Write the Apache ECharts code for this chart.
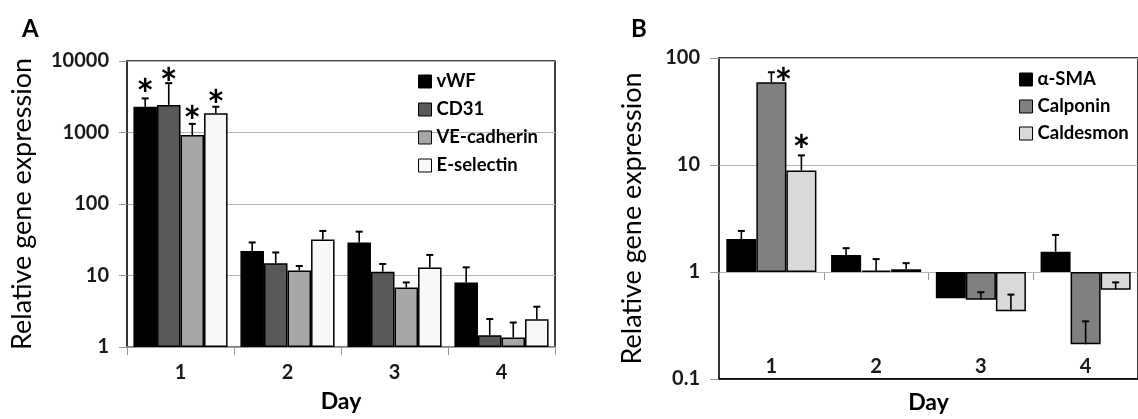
<!DOCTYPE html>
<html>
<head>
<meta charset="utf-8">
<script src="https://cdn.jsdelivr.net/npm/echarts@6/dist/echarts.min.js"></script>
<style>
  html,body{margin:0;padding:0;background:#fff;}
  #chart{width:1138px;height:419px;}
</style>
</head>
<body>
<div id="chart"></div>
<script>
// categories
var days = ['1', '2', '3', '4'];

// panel A - endothelial markers (mean, upper error)
var vwf = [2290, 22, 29, 8.0];
var vwfErr = [3000, 29, 41, 13];
var cd31 = [2430, 14.8, 11.3, 1.46];
var cd31Err = [4900, 21, 14.5, 2.46];
var veCad = [923, 11.7, 6.8, 1.36];
var veCadErr = [1320, 13.6, 8.0, 2.2];
var eSel = [1860, 32, 12.9, 2.44];
var eSelErr = [2290, 42, 19.4, 3.66];
var starsA = [[1, 0, 0, 0], [1, 0, 0, 0], [1, 0, 0, 0], [1, 0, 0, 0]]; // per series, per day

// panel B - smooth muscle markers
var sma = [2.03, 1.44, 0.569, 1.55];
var smaErr = [2.42, 1.67, null, 2.22];
var calponin = [59.4, 1.03, 0.55, 0.211];
var calponinErr = [73.6, 1.32, 0.647, 0.346];
var caldesmon = [8.89, 1.06, 0.43, 0.684];
var caldesmonErr = [12.3, 1.21, 0.615, 0.80];
var starsB = [[0, 0, 0, 0], [1, 0, 0, 0], [1, 0, 0, 0]];

// tick labels
var yTicksA = ['1', '10', '100', '1000', '10000'];
var yTicksB = ['0.1', '1', '10', '100'];

var FONT = 'Lato';
var STAR_SIZE = 42;
var gapA = 0.12, gapB = 0.14;
// where the asterisk goes relative to the error cap, per series
var starPlaceA = [[0, -16], [0, -12], [0, -14], [0, -13]];
var starPlaceB = [[0, 0], [12, -1], [0, -17]];

function errorItems(lists, errs, stars){
	var out = [];
	for (var s = 0; s < lists.length; s++){
		for (var d = 0; d < days.length; d++){
			if (errs[s][d] == null) continue;
			out.push([d, s, lists[s][d], errs[s][d], stars[s][d]]);
		}
	}
	return out;
}

function errorRender(nSeries, gap, starPlace){
	return function(params, api){
		var d = api.value(0), s = api.value(1);
		var catW = api.size([1, 0])[0];
		var barW = catW * (1 - gap) / nSeries;
		var dx = -catW * (1 - gap) / 2 + barW * (s + 0.5);
		var p0 = api.coord([d, api.value(2)]);
		var p1 = api.coord([d, api.value(3)]);
		var x = p0[0] + dx;
		var kids = [
			{type:'line', shape:{x1:x, y1:p0[1], x2:x, y2:p1[1]}, style:{stroke:'#000', lineWidth:1.6}},
			{type:'line', shape:{x1:x - 3.5, y1:p1[1], x2:x + 3.5, y2:p1[1]}, style:{stroke:'#000', lineWidth:2}}
		];
		if (api.value(4)){
			var pl = starPlace[s];
			kids.push({type:'text', style:{
				text:'*', x:x + pl[0], y:p1[1] + pl[1] + STAR_SIZE * 0.33,
				fontSize:STAR_SIZE, fontFamily:FONT, fontWeight:'bold', fill:'#000',
				align:'center', verticalAlign:'middle'
			}});
		}
		return {type:'group', children:kids};
	};
}

function logLabel(list, offset){
	return function(v){
		var i = Math.round(Math.log(v) / Math.LN10) + offset;
		return list[i] || '';
	};
}

function barSeries(name, data, color, xi, yi, gap){
	return {
		type:'bar', name:name, data:data, xAxisIndex:xi, yAxisIndex:yi,
		barGap:0, barCategoryGap:(gap * 100) + '%',
		itemStyle:{color:color, borderColor:'#000', borderWidth:1.5},
		emphasis:{disabled:true}, z:2
	};
}

var labelStyle = {fontFamily:FONT, fontWeight:'bold', fontSize:20, color:'#1a1a1a'};
var legendText = {fontFamily:FONT, fontWeight:'bold', fontSize:18.5, color:'#000'};
var nameA = {fontFamily:FONT, fontSize:27, color:'#000'};
var chart = echarts.init(document.getElementById('chart'));

var option = {
	animation:false,
	backgroundColor:'#fff',
	title:[
		{text:'A', left:17, top:12, textStyle:{fontFamily:FONT, fontWeight:'bold', fontSize:24, color:'#000'}},
		{text:'B', left:626, top:12, textStyle:{fontFamily:FONT, fontWeight:'bold', fontSize:24, color:'#000'}}
	],
	legend:[
		{
			data:['vWF', 'CD31', 'VE-cadherin', 'E-selectin'],
			left:413, top:67, orient:'vertical', itemGap:9,
			itemWidth:13, itemHeight:13, icon:'rect', itemStyle:{borderColor:'#000', borderWidth:1},
			textStyle:legendText
		},
		{
			data:['α-SMA', 'Calponin', 'Caldesmon'],
			left:1014, top:65, orient:'vertical', itemGap:8,
			itemWidth:13, itemHeight:13, icon:'rect', itemStyle:{borderColor:'#000', borderWidth:1},
			textStyle:legendText
		}
	],
	grid:[
		{left:127, top:61, width:428, height:286, show:true, borderColor:'#000', borderWidth:1.5, backgroundColor:'transparent'},
		{left:719, top:58, width:428, height:322, show:true, borderColor:'#000', borderWidth:1.5, backgroundColor:'transparent'},
		{left:719, top:58, width:428, height:215}
	],
	xAxis:[
		{
			type:'category', gridIndex:0, data:days,
			axisLine:{lineStyle:{color:'#999', width:1.5}},
			axisTick:{show:true, length:8, lineStyle:{color:'#999'}},
			axisLabel:Object.assign({margin:16}, labelStyle),
			name:'Day', nameLocation:'middle', nameGap:43,
			nameTextStyle:{fontFamily:FONT, fontWeight:'bold', fontSize:23, color:'#000'}
		},
		{
			type:'category', gridIndex:1, data:days,
			axisLine:{lineStyle:{color:'#000', width:1.5}},
			axisTick:{show:false},
			axisLabel:Object.assign({inside:true, margin:2}, labelStyle),
			name:'Day', nameLocation:'middle', nameGap:12,
			nameTextStyle:{fontFamily:FONT, fontWeight:'bold', fontSize:23, color:'#000'}
		},
		{
			type:'category', gridIndex:2, data:days,
			axisLine:{show:false},
			axisTick:{show:true, length:7, lineStyle:{color:'#999'}},
			axisLabel:{show:false}
		}
	],
	yAxis:[
		{
			type:'log', gridIndex:0, logBase:10, min:1, max:10000,
			axisLine:{show:true, lineStyle:{color:'#333', width:1.5}},
			axisTick:{show:true, length:8, lineStyle:{color:'#999'}},
			axisLabel:Object.assign({margin:18, formatter:logLabel(yTicksA, 0)}, labelStyle),
			splitLine:{show:true, lineStyle:{color:'#b3b3b3', width:1}},
			minorTick:{show:false}, minorSplitLine:{show:false},
			name:'Relative gene expression', nameLocation:'middle', nameGap:91,
			nameTextStyle:nameA
		},
		{
			type:'log', gridIndex:1, logBase:10, min:0.1, max:100,
			axisLine:{show:true, lineStyle:{color:'#333', width:1.5}},
			axisTick:{show:true, length:9, lineStyle:{color:'#999'}},
			axisLabel:Object.assign({margin:19, formatter:logLabel(yTicksB, 1)}, labelStyle),
			splitLine:{show:true, lineStyle:{color:'#b3b3b3', width:1}},
			name:'Relative gene expression', nameLocation:'middle', nameGap:73,
			nameTextStyle:nameA
		},
		{type:'value', gridIndex:2, show:false, min:0, max:1}
	],
	series:[
		barSeries('vWF', vwf, '#000000', 0, 0, gapA),
		barSeries('CD31', cd31, '#595959', 0, 0, gapA),
		barSeries('VE-cadherin', veCad, '#a6a6a6', 0, 0, gapA),
		barSeries('E-selectin', eSel, '#f8f8f8', 0, 0, gapA),
		{
			type:'custom', xAxisIndex:0, yAxisIndex:0, z:5, silent:true,
			renderItem:errorRender(4, gapA, starPlaceA),
			data:errorItems([vwf, cd31, veCad, eSel], [vwfErr, cd31Err, veCadErr, eSelErr], starsA)
		},
		barSeries('α-SMA', sma, '#000000', 1, 1, gapB),
		barSeries('Calponin', calponin, '#808080', 1, 1, gapB),
		barSeries('Caldesmon', caldesmon, '#d9d9d9', 1, 1, gapB),
		{
			type:'custom', xAxisIndex:1, yAxisIndex:1, z:5, silent:true,
			renderItem:errorRender(3, gapB, starPlaceB),
			data:errorItems([sma, calponin, caldesmon], [smaErr, calponinErr, caldesmonErr], starsB)
		}
	]
};
chart.setOption(option);
</script>
</body>
</html>
